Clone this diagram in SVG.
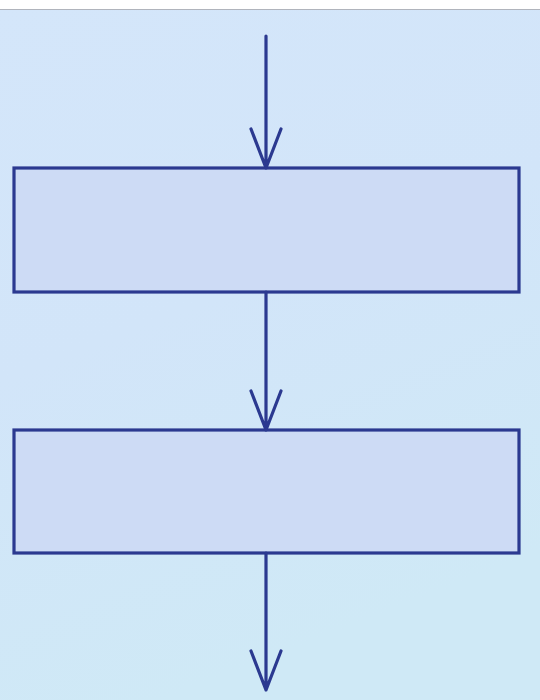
<svg xmlns="http://www.w3.org/2000/svg" width="540" height="700" viewBox="0 0 540 700">
<defs>
<linearGradient id="bg" x1="0" y1="0" x2="0.3" y2="1">
<stop offset="0" stop-color="#d4e6fa"/>
<stop offset="0.5" stop-color="#d2e5f9"/>
<stop offset="1" stop-color="#cfe9f6"/>
</linearGradient>
<style>
.box{fill:#cddbf5;stroke:#2b3990;stroke-width:3.2}
.line{fill:none;stroke:#2b3990;stroke-width:3.2;stroke-linecap:round;stroke-linejoin:round}
</style>
</defs>
<rect x="0" y="0" width="540" height="700" fill="url(#bg)"/>
<rect x="0" y="0" width="540" height="9" fill="#ffffff"/>
<line x1="0" y1="9.5" x2="540" y2="9.5" stroke="#b0b4bc" stroke-width="1"/>
<g id="node1"><rect class="box" x="14" y="168" width="505" height="124"/></g>
<g id="node2"><rect class="box" x="14" y="430" width="505" height="123"/></g>
<g id="connectors">
<path class="line" d="M266 36 V168 M251 129 L266 168 L281 129"/>
<path class="line" d="M266 292 V430 M251 391 L266 430 L281 391"/>
<path class="line" d="M266 553 V690 M251 651 L266 690 L281 651"/>
</g>
</svg>
